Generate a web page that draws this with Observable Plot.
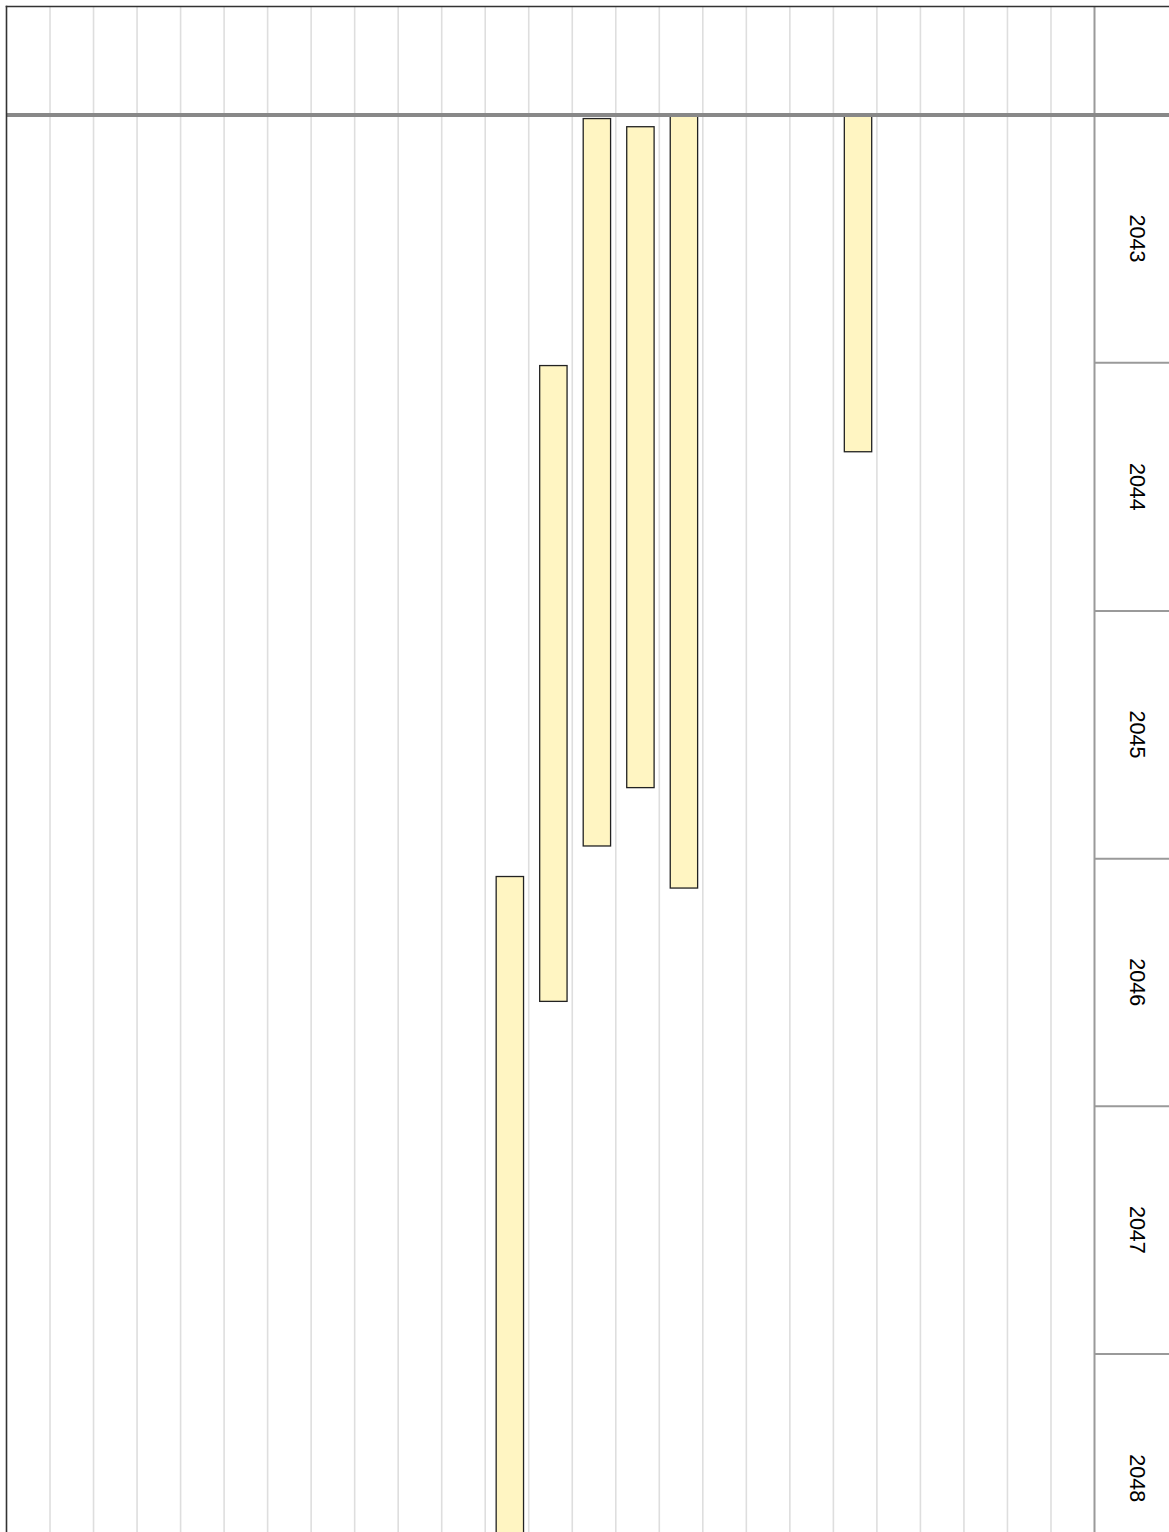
<!DOCTYPE html>
<html>
<head>
<meta charset="utf-8">
<script src="https://cdn.jsdelivr.net/npm/d3@7"></script>
<script src="https://cdn.jsdelivr.net/npm/@observablehq/plot@0.6"></script>
<style>
  html, body { margin: 0; padding: 0; background: #fff; overflow: hidden; }
  #chart svg { display: block; }
</style>
</head>
<body>
<div id="chart"></div>
<script>
// ---- data ----
const columnCount = 25;                          // number of grid columns
const barColumns = [11, 12, 13, 14, 15, 19];     // column index of each bar
const barStarts  = ["2046-01-28", "2044-01-06", "2043-01-07", "2043-01-19", "2042-10-01", "2042-09-01"];
const barEnds    = ["2049-06-30", "2046-07-31", "2045-12-14", "2045-09-19", "2046-02-14", "2044-05-12"];
const years      = [2043, 2044, 2045, 2046, 2047, 2048];
const yearBoundaries = [2044, 2045, 2046, 2047, 2048];
const viewStart = "2043-01-01";
const viewEnd   = "2048-09-20";

// ---- build table ----
const t0 = new Date(viewStart);
const bars = barColumns.map((c, i) => ({
  col: c,
  start: new Date(barStarts[i]),
  end: new Date(barEnds[i])
}));

const W = 1169, H = 1532;
const mLeft = 6, mTop = 6, mRight = 75;
const plotRight = W - mRight;
const colStep = (plotRight - mLeft) / columnCount;

const chart = Plot.plot({
  width: W,
  height: H,
  marginTop: mTop,
  marginLeft: mLeft,
  marginRight: mRight,
  marginBottom: 0,
  style: { fontFamily: "'Liberation Sans', Arial, sans-serif", background: "#fff" },
  x: { type: "linear", domain: [0, columnCount], range: [mLeft, plotRight], axis: null },
  y: { type: "utc", domain: [t0, new Date(viewEnd)], range: [114.5, H], axis: null },
  marks: [
    // vertical grid lines between columns
    Plot.ruleX(d3.range(1, columnCount), { x: d => d, stroke: "#dedede", strokeWidth: 1.6 }),
    // right axis line
    Plot.ruleX([columnCount], { x: d => d, stroke: "#9a9a9a", strokeWidth: 2 }),
    // bars
    Plot.rect(bars, {
      x1: "col",
      x2: d => d.col + 1,
      y1: d => (d.start < t0 ? t0 : d.start),
      y2: "end",
      insetLeft: colStep * 0.263,
      insetRight: colStep * 0.108,
      fill: "#fff5c2",
      stroke: "#222",
      strokeWidth: 1.3
    }),
    // header separator line
    Plot.ruleY([t0], { y: d => d, stroke: "#888", strokeWidth: 4, insetRight: -mRight }),
    // year tick marks in the right column
    Plot.axisY(yearBoundaries.map(y => new Date(Date.UTC(y, 0, 1))), {
      anchor: "right", tickSize: mRight, tickFormat: () => "", stroke: "#9a9a9a", strokeWidth: 2, label: null
    }),
    // year labels centred in each year band, rotated
    Plot.text(years, {
      y: d => new Date(Date.UTC(d, 6, 2)),
      text: d => String(d),
      frameAnchor: "right",
      textAnchor: "middle",
      lineAnchor: "middle",
      dx: 42,
      rotate: 90,
      fontSize: 21.5,
      fill: "#000"
    }),
    // outer borders
    Plot.frame({ anchor: "top", stroke: "#333", strokeWidth: 1.6, insetRight: -mRight }),
    Plot.frame({ anchor: "left", stroke: "#333", strokeWidth: 1.6 })
  ]
});

document.getElementById("chart").appendChild(chart);
</script>
</body>
</html>
